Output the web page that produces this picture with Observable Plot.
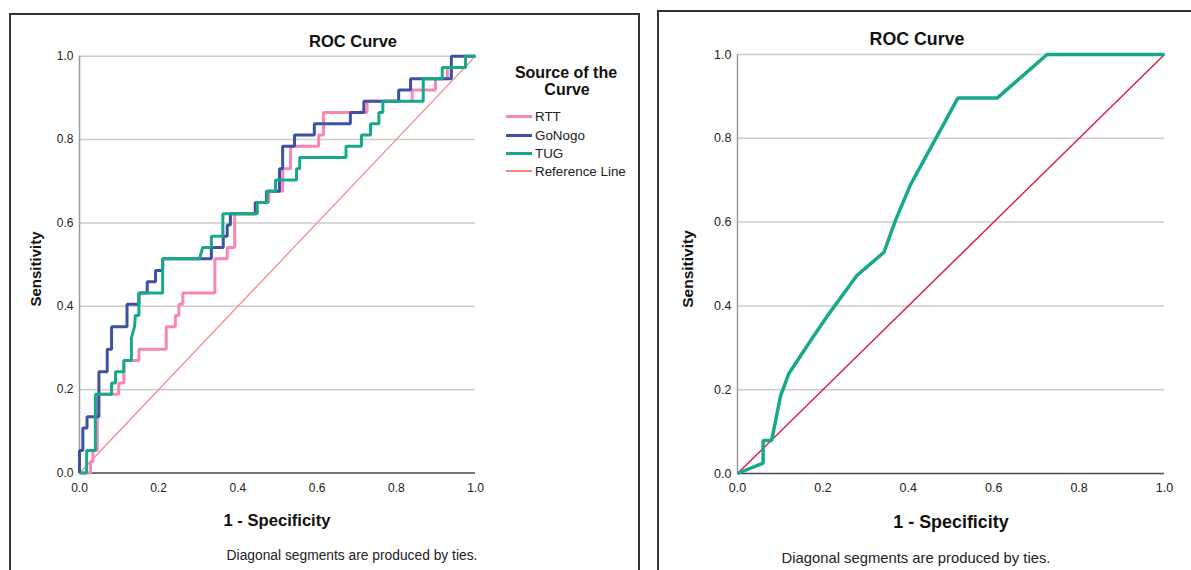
<!DOCTYPE html>
<html>
<head>
<meta charset="utf-8">
<script src="https://cdn.jsdelivr.net/npm/d3@7"></script>
<script src="https://cdn.jsdelivr.net/npm/@observablehq/plot@0.6"></script>
<style>
  html, body { margin: 0; padding: 0; background: #fff; }
  body { width: 1191px; height: 570px; position: relative; overflow: hidden;
         font-family: "Liberation Sans", Arial, sans-serif; color: #111; }
  .abs { position: absolute; white-space: nowrap; }
  .c { transform: translate(-50%, -50%); }
  .frame { position: absolute; border: 2px solid #333; box-sizing: border-box; }
  svg { position: absolute; top: 0; overflow: visible; }
</style>
</head>
<body>
<div id="frameL" class="frame" style="left:9px; top:13px; width:631px; height:620px;"></div>
<div id="frameR" class="frame" style="left:657px; top:10px; width:600px; height:620px;"></div>
<div id="plotL"></div>
<div id="plotR"></div>
<script>
// ---------- data ----------
const tickValues = [0, 0.2, 0.4, 0.6, 0.8, 1.0];
const gridValues = [0.2, 0.4, 0.6, 0.8, 1.0];

const seriesNames = ["RTT", "GoNogo", "TUG", "Reference Line"];

// Left panel: RTT (1 - specificity, sensitivity)
const rttX = [0, 0.028, 0.028, 0.034, 0.034, 0.045, 0.045, 0.099, 0.099, 0.112, 0.112, 0.150, 0.150, 0.219, 0.219, 0.242, 0.242, 0.251, 0.251, 0.261, 0.261, 0.342, 0.342, 0.373, 0.373, 0.392, 0.392, 0.444, 0.444, 0.478, 0.478, 0.513, 0.513, 0.533, 0.533, 0.604, 0.604, 0.616, 0.616, 0.726, 0.726, 0.840, 0.840, 0.899, 0.899, 0.929, 0.929, 0.975, 0.975, 1];
const rttY = [0, 0, 0.027, 0.027, 0.054, 0.054, 0.189, 0.189, 0.216, 0.216, 0.270, 0.270, 0.297, 0.297, 0.351, 0.351, 0.378, 0.378, 0.405, 0.405, 0.432, 0.432, 0.514, 0.514, 0.541, 0.541, 0.622, 0.622, 0.649, 0.649, 0.676, 0.676, 0.730, 0.730, 0.784, 0.784, 0.811, 0.811, 0.865, 0.865, 0.892, 0.892, 0.919, 0.919, 0.946, 0.946, 0.973, 0.973, 1, 1];

// Left panel: GoNogo
const gonogoX = [0, 0, 0.0084, 0.0084, 0.019, 0.019, 0.049, 0.049, 0.070, 0.070, 0.081, 0.081, 0.120, 0.120, 0.150, 0.150, 0.171, 0.171, 0.192, 0.192, 0.210, 0.210, 0.333, 0.333, 0.363, 0.363, 0.373, 0.373, 0.381, 0.381, 0.444, 0.444, 0.472, 0.472, 0.505, 0.505, 0.513, 0.513, 0.543, 0.543, 0.593, 0.593, 0.684, 0.684, 0.718, 0.718, 0.806, 0.806, 0.836, 0.836, 0.939, 0.939, 1];
const gonogoY = [0, 0.054, 0.054, 0.108, 0.108, 0.135, 0.135, 0.243, 0.243, 0.297, 0.297, 0.351, 0.351, 0.405, 0.405, 0.432, 0.432, 0.459, 0.459, 0.486, 0.486, 0.514, 0.514, 0.541, 0.541, 0.568, 0.568, 0.595, 0.595, 0.622, 0.622, 0.649, 0.649, 0.676, 0.676, 0.730, 0.730, 0.784, 0.784, 0.811, 0.811, 0.838, 0.838, 0.865, 0.865, 0.892, 0.892, 0.919, 0.919, 0.946, 0.946, 1, 1];

// Left panel: TUG
const tugX = [0, 0.018, 0.018, 0.040, 0.040, 0.081, 0.081, 0.091, 0.091, 0.112, 0.112, 0.131, 0.131, 0.139, 0.141, 0.150, 0.150, 0.210, 0.210, 0.303, 0.311, 0.333, 0.333, 0.362, 0.362, 0.449, 0.449, 0.474, 0.474, 0.495, 0.495, 0.548, 0.548, 0.556, 0.556, 0.673, 0.673, 0.712, 0.712, 0.735, 0.735, 0.756, 0.756, 0.766, 0.766, 0.868, 0.868, 0.916, 0.916, 0.975, 0.975, 1];
const tugY = [0, 0, 0.054, 0.054, 0.189, 0.189, 0.216, 0.216, 0.243, 0.243, 0.270, 0.270, 0.324, 0.351, 0.378, 0.378, 0.432, 0.432, 0.514, 0.514, 0.541, 0.541, 0.568, 0.568, 0.622, 0.622, 0.649, 0.649, 0.676, 0.676, 0.703, 0.703, 0.730, 0.730, 0.757, 0.757, 0.784, 0.784, 0.811, 0.811, 0.838, 0.838, 0.865, 0.865, 0.892, 0.892, 0.946, 0.946, 0.973, 0.973, 1, 1];

// Reference line
const refX = [0, 1];
const refY = [0, 1];

// Right panel: single curve
const rightX = [0, 0.060, 0.060, 0.080, 0.101, 0.120, 0.171, 0.214, 0.280, 0.343, 0.370, 0.405, 0.516, 0.608, 0.725, 1];
const rightY = [0, 0.025, 0.079, 0.079, 0.186, 0.238, 0.317, 0.381, 0.473, 0.528, 0.604, 0.689, 0.896, 0.896, 1, 1];

// ---------- styles ----------
const colors = { "RTT": "#f887b3", "GoNogo": "#3f51a3", "TUG": "#17a98a", "Reference Line": "#f7857d" };
const refRightColor = "#dc1e4b";
const pts = (xs, ys) => xs.map((x, i) => [x, ys[i]]);
const fmt = d3.format(".1f");
const font = "'Liberation Sans', Arial, sans-serif";

function base(opts, fontSize, marks) {
  return Plot.plot({
    ...opts,
    x: { domain: [0, 1] },
    y: { domain: [0, 1] },
    style: { fontFamily: font, fontSize: fontSize + "px", color: "#222", background: "transparent", overflow: "visible" },
    marks: [
      Plot.gridY(gridValues, { stroke: "#cdcdcd", strokeOpacity: 1, strokeWidth: 1.5 }),
      Plot.axisY(tickValues, { tickSize: 0, tickPadding: 6, tickFormat: fmt, label: null }),
      Plot.axisX(tickValues, { tickSize: 0, tickPadding: 10, tickFormat: fmt, label: null }),
      Plot.ruleX([0], { stroke: "#9c9c9c", strokeWidth: 1.5 }),
      Plot.ruleY([0], { stroke: "#4a4a4a", strokeWidth: 1.5 }),
      ...marks
    ]
  });
}

const lineOpt = (c, w) => ({ stroke: c, strokeWidth: w, strokeLinejoin: "miter", strokeLinecap: "butt" });

const left = base(
  { width: 640, height: 570, marginLeft: 79, marginRight: 165, marginTop: 55.7, marginBottom: 97.5 },
  12,
  [
    Plot.line(pts(refX, refY), lineOpt(colors["Reference Line"], 1.2)),
    Plot.line(pts(rttX, rttY), lineOpt(colors["RTT"], 3)),
    Plot.line(pts(gonogoX, gonogoY), lineOpt(colors["GoNogo"], 3)),
    Plot.line(pts(tugX, tugY), lineOpt(colors["TUG"], 3))
  ]
);
left.style.left = "0px";
document.getElementById("plotL").appendChild(left);

const right = base(
  { width: 551, height: 570, marginLeft: 97, marginRight: 27, marginTop: 54, marginBottom: 97 },
  12.5,
  [
    Plot.line(pts(refX, refY), lineOpt(refRightColor, 1.5)),
    Plot.line(pts(rightX, rightY), lineOpt(colors["TUG"], 3.5))
  ]
);
right.style.left = "640px";
document.getElementById("plotR").appendChild(right);

// ---------- text ----------
function addText(txt, x, y, css) {
  const d = document.createElement("div");
  d.className = "abs c";
  d.textContent = txt;
  d.style.left = x + "px";
  d.style.top = y + "px";
  Object.assign(d.style, css || {});
  document.body.appendChild(d);
  return d;
}
const bold = s => ({ fontWeight: "bold", fontSize: s + "px" });

// left panel texts
addText("ROC Curve", 353, 41, bold(16.5));
addText("1 - Specificity", 277, 521, bold(16.6));
addText("Sensitivity", 35, 269, { ...bold(15), transform: "translate(-50%,-50%) rotate(-90deg)" });
addText("Diagonal segments are produced by ties.", 352, 555, { fontSize: "13.8px", color: "#222" });

// legend
addText("Source of the", 566, 73, bold(16));
addText("Curve", 567, 90, bold(16));
const legendY = [116, 135, 153, 171];
seriesNames.forEach((name, i) => {
  const ln = document.createElement("div");
  ln.className = "abs";
  const w = name === "Reference Line" ? 1.2 : 3;
  Object.assign(ln.style, { left: "506px", top: (legendY[i] - w / 2) + "px", width: "26px", height: w + "px", background: colors[name] });
  document.body.appendChild(ln);
  const t = document.createElement("div");
  t.className = "abs";
  t.textContent = name;
  Object.assign(t.style, { left: "535px", top: legendY[i] + "px", transform: "translateY(-50%)", fontSize: "13.4px", color: "#222" });
  document.body.appendChild(t);
});

// right panel texts
addText("ROC Curve", 917, 39, bold(17.8));
addText("1 - Specificity", 951, 522, bold(17.9));
addText("Sensitivity", 688, 269, { ...bold(15.5), transform: "translate(-50%,-50%) rotate(-90deg)" });
addText("Diagonal segments are produced by ties.", 916, 558, { fontSize: "14.8px", color: "#222" });
</script>
</body>
</html>
